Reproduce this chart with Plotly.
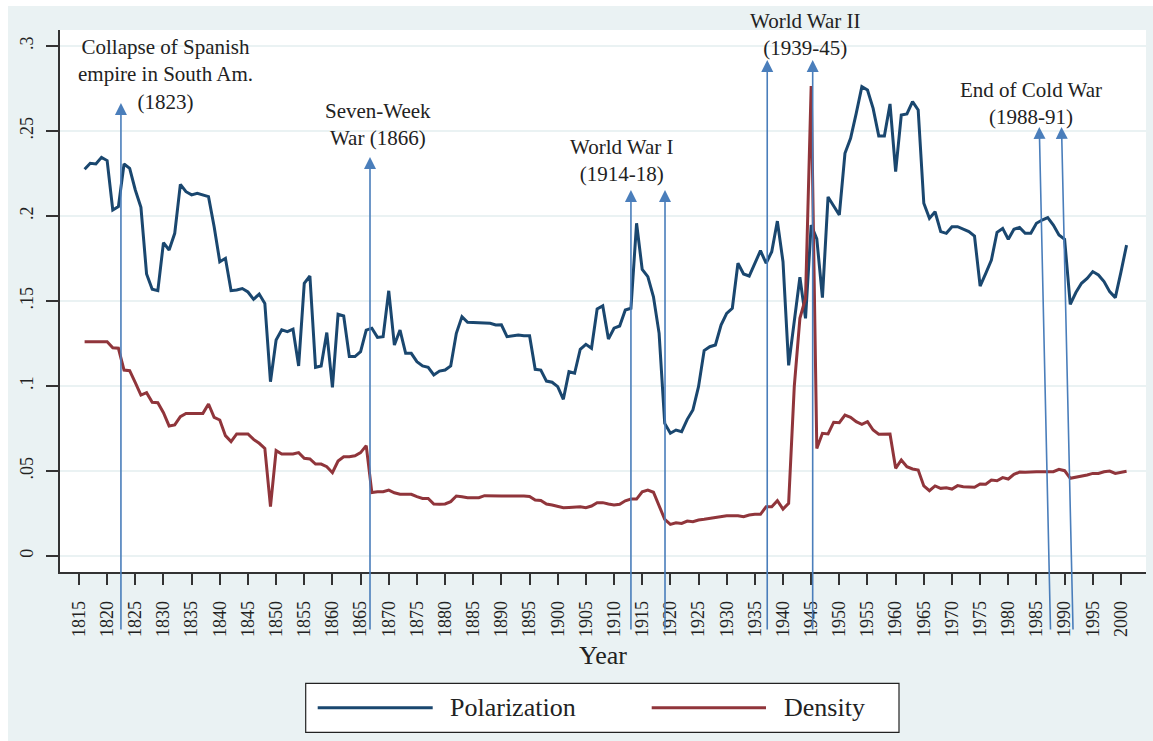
import plotly.graph_objects as go

# ---- data -----------------------------------------------------------------
years = list(range(1816, 2002))

polarization = [
    0.2275, 0.2310, 0.2306, 0.2345, 0.2326, 0.2035, 0.2055, 0.2306, 0.2280, 0.2153,  # 1816-1825
    0.2051, 0.1659, 0.1569, 0.1561, 0.1843, 0.1800, 0.1898, 0.2186, 0.2143, 0.2124,  # 1826-1835
    0.2133, 0.2124, 0.2114, 0.1937, 0.1731, 0.1751, 0.1561, 0.1565, 0.1573, 0.1553,  # 1836-1845
    0.1510, 0.1541, 0.1486, 0.1025, 0.1270, 0.1330, 0.1320, 0.1334, 0.1118, 0.1604,  # 1846-1855
    0.1647, 0.1110, 0.1118, 0.1314, 0.0992, 0.1422, 0.1412, 0.1173, 0.1173, 0.1202,  # 1856-1865
    0.1329, 0.1340, 0.1286, 0.1290, 0.1560, 0.1241, 0.1329, 0.1192, 0.1192, 0.1143,  # 1866-1875
    0.1118, 0.1110, 0.1065, 0.1088, 0.1094, 0.1118, 0.1310, 0.1408, 0.1375, 0.1373,  # 1876-1885
    0.1373, 0.1369, 0.1369, 0.1359, 0.1360, 0.1290, 0.1294, 0.1300, 0.1296, 0.1296,  # 1886-1895
    0.1098, 0.1094, 0.1029, 0.1022, 0.0996, 0.0922, 0.1084, 0.1075, 0.1216, 0.1245,  # 1896-1905
    0.1222, 0.1453, 0.1471, 0.1276, 0.1340, 0.1353, 0.1447, 0.1457, 0.1957, 0.1686,  # 1906-1915
    0.1643, 0.1525, 0.1310, 0.0780, 0.0722, 0.0741, 0.0731, 0.0804, 0.0859, 0.0996,  # 1916-1925
    0.1208, 0.1231, 0.1241, 0.1359, 0.1427, 0.1457, 0.1722, 0.1659, 0.1647, 0.1725,  # 1926-1935
    0.1796, 0.1722, 0.1790, 0.1970, 0.1731, 0.1121, 0.1380, 0.1640, 0.1398, 0.1947,  # 1936-1945
    0.1865, 0.1520, 0.2112, 0.2055, 0.2006, 0.2369, 0.2457, 0.2604, 0.2761, 0.2741,  # 1946-1955
    0.2633, 0.2471, 0.2471, 0.2659, 0.2261, 0.2594, 0.2600, 0.2673, 0.2624, 0.2075,  # 1956-1965
    0.1986, 0.2025, 0.1908, 0.1898, 0.1937, 0.1937, 0.1924, 0.1908, 0.1882, 0.1588,  # 1966-1975
    0.1663, 0.1741, 0.1904, 0.1927, 0.1863, 0.1922, 0.1933, 0.1898, 0.1898, 0.1957,  # 1976-1985
    0.1976, 0.1990, 0.1947, 0.1888, 0.1863, 0.1480, 0.1550, 0.1604, 0.1633, 0.1673,  # 1986-1995
    0.1653, 0.1614, 0.1555, 0.1520, 0.1670, 0.1829,                                  # 1996-2001
]

density = [
    0.1261, 0.1261, 0.1261, 0.1261, 0.1261, 0.1225, 0.1222, 0.1094, 0.1090, 0.1020,  # 1816-1825
    0.0947, 0.0961, 0.0904, 0.0902, 0.0843, 0.0765, 0.0771, 0.0820, 0.0839, 0.0839,  # 1826-1835
    0.0839, 0.0839, 0.0894, 0.0816, 0.0800, 0.0708, 0.0673, 0.0718, 0.0718, 0.0718,  # 1836-1845
    0.0686, 0.0663, 0.0633, 0.0290, 0.0620, 0.0600, 0.0600, 0.0600, 0.0608, 0.0575,  # 1846-1855
    0.0571, 0.0541, 0.0541, 0.0525, 0.0490, 0.0559, 0.0584, 0.0584, 0.0590, 0.0608,  # 1856-1865
    0.0649, 0.0373, 0.0378, 0.0378, 0.0388, 0.0372, 0.0363, 0.0363, 0.0363, 0.0349,  # 1866-1875
    0.0339, 0.0339, 0.0306, 0.0304, 0.0306, 0.0320, 0.0353, 0.0349, 0.0343, 0.0343,  # 1876-1885
    0.0343, 0.0355, 0.0353, 0.0353, 0.0353, 0.0353, 0.0353, 0.0355, 0.0353, 0.0350,  # 1886-1895
    0.0329, 0.0327, 0.0306, 0.0300, 0.0290, 0.0284, 0.0286, 0.0286, 0.0290, 0.0284,  # 1896-1905
    0.0294, 0.0314, 0.0314, 0.0306, 0.0300, 0.0304, 0.0325, 0.0335, 0.0335, 0.0378,  # 1906-1915
    0.0388, 0.0375, 0.0290, 0.0216, 0.0186, 0.0196, 0.0192, 0.0206, 0.0202, 0.0212,  # 1916-1925
    0.0216, 0.0222, 0.0225, 0.0235, 0.0237, 0.0237, 0.0237, 0.0231, 0.0241, 0.0245,  # 1926-1935
    0.0245, 0.0290, 0.0290, 0.0325, 0.0276, 0.0310, 0.0996, 0.1398, 0.1516, 0.2765,  # 1936-1945
    0.0633, 0.0722, 0.0718, 0.0787, 0.0784, 0.0829, 0.0816, 0.0790, 0.0775, 0.0790,  # 1946-1955
    0.0741, 0.0716, 0.0716, 0.0718, 0.0516, 0.0565, 0.0525, 0.0512, 0.0506, 0.0412,  # 1956-1965
    0.0384, 0.0412, 0.0398, 0.0402, 0.0394, 0.0414, 0.0408, 0.0404, 0.0404, 0.0424,  # 1966-1975
    0.0422, 0.0447, 0.0443, 0.0461, 0.0453, 0.0480, 0.0494, 0.0492, 0.0496, 0.0496,  # 1976-1985
    0.0496, 0.0496, 0.0496, 0.0510, 0.0502, 0.0457, 0.0463, 0.0473, 0.0477, 0.0486,  # 1986-1995
    0.0486, 0.0496, 0.0500, 0.0486, 0.0494, 0.0498,                                  # 1996-2001
]

x_tickvals = list(range(1815, 2001, 5))
y_tickvals = [0, 0.05, 0.1, 0.15, 0.2, 0.25, 0.3]
y_ticktext = ["0", ".05", ".1", ".15", ".2", ".25", ".3"]

series_names = ["Polarization", "Density"]

# historical events: label text and label centre (year, value)
event_labels = [
    "Collapse of Spanish<br>empire in South Am.<br>(1823)",
    "Seven-Week<br>War (1866)",
    "World War I<br>(1914-18)",
    "World War II<br>(1939-45)",
    "End of Cold War<br>(1988-91)",
]
label_x = [1830.36, 1868.04, 1911.5, 1944.0, 1984.0]
label_y = [0.2835, 0.2538, 0.2324, 0.3065, 0.2662]

# event arrows: tail year (below the axis), head year, head value
arrow_tail_x = [1822.45, 1866.67, 1913.0, 1919.05, 1937.2, 1945.27, 1987.5, 1991.5]
arrow_head_x = [1822.45, 1866.67, 1913.0, 1919.05, 1937.2, 1945.27, 1985.5, 1989.45]
arrow_head_y = [0.2665, 0.2347, 0.2153, 0.2153, 0.2918, 0.2918, 0.2524, 0.2524]
arrow_tail_y = -0.0441

# ---- style ----------------------------------------------------------------
NAVY = "#1a476f"
MAROON = "#90353b"
ARROW = "#4a7ebb"
BG = "#eaf2f3"
INK = "#222222"
AXIS = "#333333"
FONT = "Liberation Serif"

W, H = 1153, 741
M_L, M_R, M_T, M_B = 60, 7, 30, 169
PW, PH = W - M_L - M_R, H - M_T - M_B


def px_x(px):
    return (px - M_L) / PW


def px_y(py):
    return (H - M_B - py) / PH


fig = go.Figure()
for name, vals, col in zip(series_names, [polarization, density], [NAVY, MAROON]):
    fig.add_trace(go.Scatter(
        x=years, y=vals, name=name, mode="lines",
        line=dict(color=col, width=3), showlegend=False,
    ))

annotations = []
for tx, hx, hy in zip(arrow_tail_x, arrow_head_x, arrow_head_y):
    annotations.append(dict(
        x=hx, y=hy, xref="x", yref="y",
        ax=tx, ay=arrow_tail_y, axref="x", ayref="y",
        text="", showarrow=True, arrowhead=2, arrowsize=1.5,
        arrowwidth=1.6, arrowcolor=ARROW,
    ))
for txt, lx, ly in zip(event_labels, label_x, label_y):
    annotations.append(dict(
        x=lx, y=ly, xref="x", yref="y", text=txt, showarrow=False,
        xanchor="center", yanchor="middle", align="center",
        font=dict(family=FONT, size=21, color=INK),
    ))

# legend: framed box with two line samples
leg_y = px_y(707.7)
shapes = [
    # white margin strips along the top and left edges
    dict(type="rect", xref="paper", yref="paper", layer="above",
         x0=px_x(0), x1=px_x(W), y0=px_y(6), y1=px_y(0),
         fillcolor="white", line=dict(width=0)),
    dict(type="rect", xref="paper", yref="paper", layer="above",
         x0=px_x(0), x1=px_x(8), y0=px_y(H), y1=px_y(0),
         fillcolor="white", line=dict(width=0)),
    dict(type="rect", xref="paper", yref="paper",
         x0=px_x(305.7), x1=px_x(899), y0=px_y(732.3), y1=px_y(683.3),
         fillcolor="white", line=dict(color=INK, width=1.2)),
    dict(type="line", xref="paper", yref="paper",
         x0=px_x(317.7), x1=px_x(432.7), y0=leg_y, y1=leg_y,
         line=dict(color=NAVY, width=3)),
    dict(type="line", xref="paper", yref="paper",
         x0=px_x(651.7), x1=px_x(766), y0=leg_y, y1=leg_y,
         line=dict(color=MAROON, width=3)),
]
for name, lx in zip(series_names, [448.3, 782.3]):
    annotations.append(dict(
        x=px_x(lx), y=leg_y, xref="paper", yref="paper", text=name,
        showarrow=False, xanchor="left", yanchor="middle",
        font=dict(family=FONT, size=26, color=INK),
    ))

fig.update_layout(
    width=W, height=H,
    margin=dict(l=M_L, r=M_R, t=M_T, b=M_B, pad=0),
    paper_bgcolor=BG, plot_bgcolor="white",
    font=dict(family=FONT, color=INK),
    annotations=annotations, shapes=shapes,
    showlegend=False,
)
fig.update_xaxes(
    range=[1811.63, 2004.45], tickvals=x_tickvals, tickangle=-90,
    tickfont=dict(family=FONT, size=18, color=INK),
    ticks="outside", ticklen=11, tickwidth=1.5, tickcolor=AXIS,
    ticklabelstandoff=9,
    showline=True, linecolor=AXIS, linewidth=1.5,
    showgrid=False, zeroline=False,
    title=dict(text="Year", font=dict(family=FONT, size=26, color=INK), standoff=10),
)
fig.update_yaxes(
    range=[-0.0094, 0.3094], tickvals=y_tickvals, ticktext=y_ticktext,
    tickangle=-90, tickfont=dict(family=FONT, size=18, color=INK),
    ticks="outside", ticklen=12, tickwidth=1.5, tickcolor=AXIS,
    ticklabelstandoff=6,
    showline=True, linecolor=AXIS, linewidth=1.5,
    showgrid=True, gridcolor=BG, gridwidth=2, zeroline=False,
)

fig.write_html("out.html")
